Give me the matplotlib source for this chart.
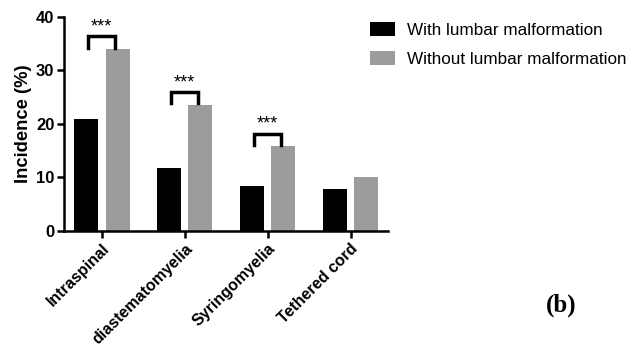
import matplotlib
matplotlib.use("Agg")
import matplotlib.pyplot as plt
import numpy as np

plt.rcParams['font.family'] = ['Liberation Sans', 'DejaVu Sans']

categories = ['Intraspinal', 'diastematomyelia', 'Syringomyelia', 'Tethered cord']
with_lumbar = [20.9, 11.7, 8.5, 7.8]
without_lumbar = [34.0, 23.6, 15.9, 10.0]
series_names = ['With lumbar malformation', 'Without lumbar malformation']
# groups with significance brackets
sig_groups = [0, 1, 2]

fig = plt.figure(figsize=(6.41, 3.46), dpi=100)
ax = fig.add_axes([0.1, 0.332, 0.505, 0.62])

x = np.arange(len(categories))
w = 0.29
ax.bar(x - 0.19, with_lumbar, w, color='black', label=series_names[0])
ax.bar(x + 0.19, without_lumbar, w, color='#9c9c9c', label=series_names[1])

# significance brackets
for i in sig_groups:
    top = without_lumbar[i] + 2.3
    bottom = without_lumbar[i] + 0.2
    xl, xr = i - 0.17, i + 0.16
    ax.plot([xl, xl, xr, xr], [bottom, top, top, bottom], color='black', lw=2.5,
            solid_joinstyle='miter', clip_on=False)
    ax.text((xl + xr) / 2, top + 0.2, '***', ha='center', va='bottom', fontsize=13)

ax.set_xlim(-0.455, 3.45)
ax.set_ylim(0, 40)
ax.set_yticks([0, 10, 20, 30, 40])
ax.set_xticks(x)
ax.set_xticklabels(categories, rotation=45, ha='right', rotation_mode='anchor',
                   fontweight='bold', fontsize=11.5)
for lab in ax.get_yticklabels():
    lab.set_fontweight('bold')
    lab.set_fontsize(12)
ax.set_ylabel('Incidence (%)', fontweight='bold', fontsize=13.2, labelpad=3)

ax.spines['top'].set_visible(False)
ax.spines['right'].set_visible(False)
ax.spines['left'].set_linewidth(1.8)
ax.spines['bottom'].set_linewidth(1.8)
ax.tick_params(axis='both', width=1.8, length=5, direction='out')
ax.tick_params(axis='y', pad=2)
ax.tick_params(axis='x', pad=2)

fig.legend(loc='upper left', bbox_to_anchor=(0.566, 0.955), frameon=False,
           fontsize=12.3, handlelength=1.5, handleheight=0.85, handletextpad=0.7,
           labelspacing=0.78, borderaxespad=0)

fig.text(0.852, 0.1, '(b)', fontweight='bold', fontsize=18, family='Liberation Serif',
         va='baseline')

fig.savefig('out.png', dpi=100)
